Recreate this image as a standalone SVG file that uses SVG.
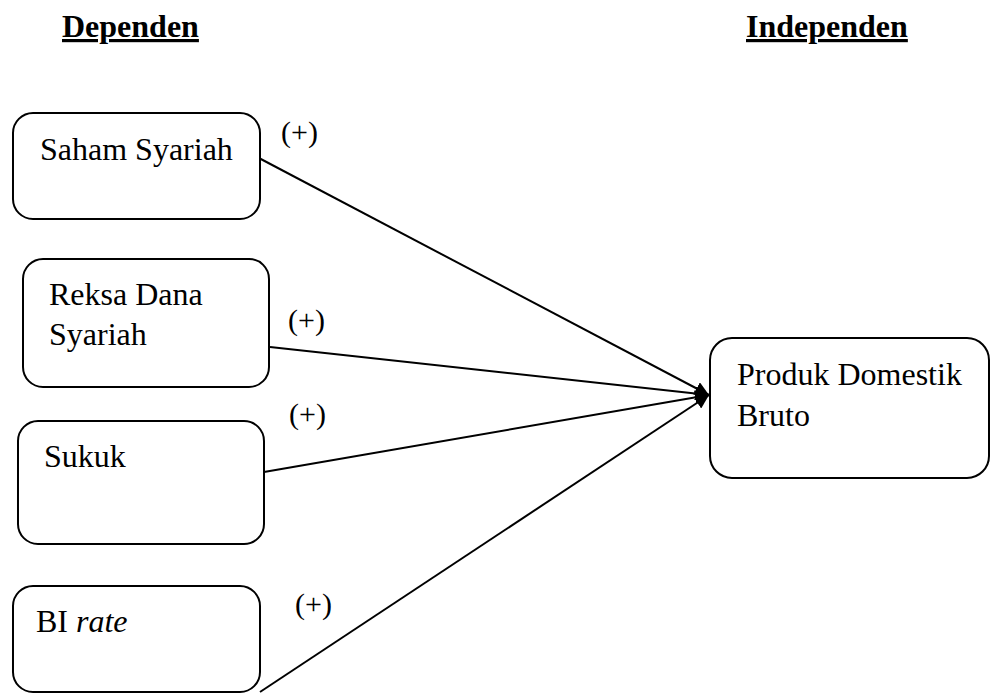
<svg xmlns="http://www.w3.org/2000/svg" width="991" height="694" viewBox="0 0 991 694">
<style>
.box{fill:#fff;stroke:#000;stroke-width:2}
.t{font-family:"Liberation Serif","Times New Roman",serif;font-size:32px;fill:#000}
.h{font-family:"Liberation Serif","Times New Roman",serif;font-size:32px;font-weight:bold;fill:#000;text-decoration:underline}
.p{font-family:"Liberation Serif","Times New Roman",serif;font-size:30px;fill:#000}
.c{stroke:#000;stroke-width:2;fill:none;marker-end:url(#ah)}
</style>
<defs>
<marker id="ah" viewBox="0 0 10 10" refX="10" refY="5" markerWidth="7" markerHeight="7" markerUnits="strokeWidth" orient="auto">
<path d="M0,0 L10,5 L0,10 z" fill="#000"/>
</marker>
</defs>
<g id="headings">
<text class="h" x="62" y="37">Dependen</text>
<text class="h" x="746" y="37">Independen</text>
</g>
<g id="connectors">
<line class="c" x1="257" y1="157" x2="709" y2="395"/>
<line class="c" x1="270" y1="347" x2="709" y2="395"/>
<line class="c" x1="264" y1="472" x2="709" y2="395"/>
<line class="c" x1="260" y1="692" x2="709" y2="395"/>
</g>
<g id="saham">
<rect class="box" x="13" y="113" width="247" height="106" rx="20"/>
<text class="t" x="40" y="160">Saham Syariah</text>
</g>
<g id="reksa">
<rect class="box" x="23" y="259" width="246" height="128" rx="20"/>
<text class="t" x="49" y="305">Reksa Dana</text>
<text class="t" x="49" y="345">Syariah</text>
</g>
<g id="sukuk">
<rect class="box" x="18" y="421" width="246" height="123" rx="20"/>
<text class="t" x="44" y="467">Sukuk</text>
</g>
<g id="birate">
<rect class="box" x="13" y="586" width="247" height="106" rx="20"/>
<text class="t" x="36" y="632">BI <tspan font-style="italic">rate</tspan></text>
</g>
<g id="pdb">
<rect class="box" x="710" y="338" width="279" height="140" rx="22"/>
<text class="t" x="737" y="385">Produk Domestik</text>
<text class="t" x="737" y="426">Bruto</text>
</g>
<g id="labels">
<text class="p" x="281" y="142">(+)</text>
<text class="p" x="288" y="330">(+)</text>
<text class="p" x="289" y="424">(+)</text>
<text class="p" x="295" y="614">(+)</text>
</g>
</svg>
